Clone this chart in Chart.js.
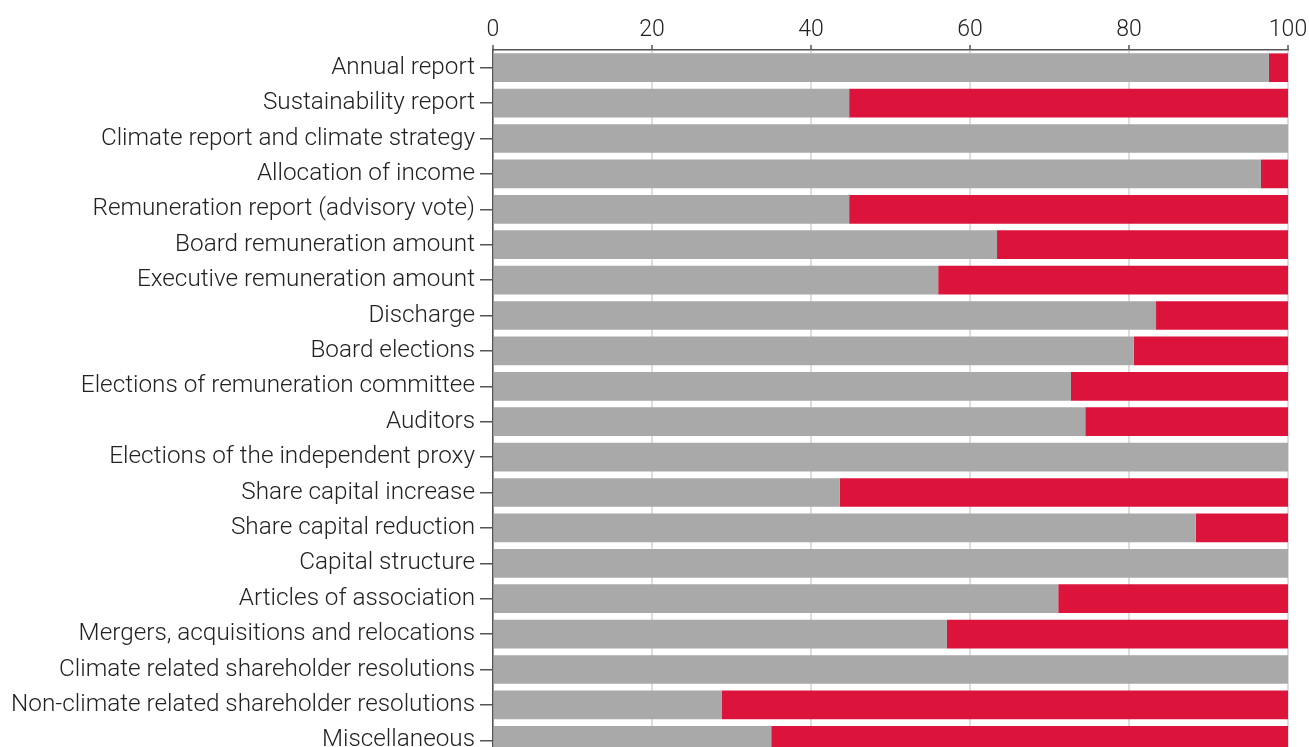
<!DOCTYPE html>
<html>
<head>
<meta charset="utf-8">
<script src="https://cdn.jsdelivr.net/npm/chart.js@4"></script>
<style>
  html, body { margin: 0; padding: 0; background: #fff; overflow: hidden; }
  canvas { display: block; }
</style>
</head>
<body>
<canvas id="votes" width="1309" height="758"></canvas>
<script>
const categories = [
  "Annual report",
  "Sustainability report",
  "Climate report and climate strategy",
  "Allocation of income",
  "Remuneration report (advisory vote)",
  "Board remuneration amount",
  "Executive remuneration amount",
  "Discharge",
  "Board elections",
  "Elections of remuneration committee",
  "Auditors",
  "Elections of the independent proxy",
  "Share capital increase",
  "Share capital reduction",
  "Capital structure",
  "Articles of association",
  "Mergers, acquisitions and relocations",
  "Climate related shareholder resolutions",
  "Non-climate related shareholder resolutions",
  "Miscellaneous",
];

const forVotes = [97.6, 44.8, 100, 96.6, 44.8, 63.4, 56.0, 83.4, 80.6, 72.7, 74.5, 100, 43.6, 88.4, 100, 71.1, 57.1, 100, 28.8, 35.0];
const againstVotes = [2.4, 55.2, 0, 3.4, 55.2, 36.6, 44.0, 16.6, 19.4, 27.3, 25.5, 0, 56.4, 11.6, 0, 28.9, 42.9, 0, 71.2, 65.0];

const xTicks = [0, 20, 40, 60, 80, 100];

const labelFont = { family: "Roboto", size: 24.3, weight: 300 };

const ctx = document.getElementById("votes");

new Chart(ctx, {
  type: "bar",
  data: {
    labels: categories,
    datasets: [
      {
        label: "For",
        data: forVotes,
        backgroundColor: "#a9a9a9",
        categoryPercentage: 1,
        barPercentage: 0.81,
      },
      {
        label: "Against",
        data: againstVotes,
        backgroundColor: "#dc143c",
        categoryPercentage: 1,
        barPercentage: 0.81,
      },
    ],
  },
  options: {
    indexAxis: "y",
    responsive: false,
    animation: false,
    layout: { padding: { left: 0, right: 21, top: 0, bottom: 0 } },
    plugins: {
      legend: { display: false },
      tooltip: { enabled: false },
    },
    scales: {
      x: {
        position: "top",
        stacked: true,
        min: 0,
        max: 100,
        afterBuildTicks: (scale) => {
          scale.ticks = xTicks.map((v) => ({ value: v }));
        },
        afterFit: (scale) => {
          scale.height = 50;
          scale.paddingLeft = 0;
          scale.paddingRight = 0;
        },
        grid: {
          color: "#dddddd",
          lineWidth: 2,
          tickColor: "#555555",
          tickLength: 5,
          tickWidth: 1.5,
        },
        border: { color: "#555555", width: 1.5 },
        ticks: {
          color: "#222222",
          font: { family: "Roboto", size: 23, weight: 300 },
          padding: 1,
        },
      },
      y: {
        stacked: true,
        afterFit: (scale) => {
          scale.width = 493;
          scale.paddingTop = 0;
          scale.paddingBottom = 0;
        },
        grid: {
          offset: false,
          drawOnChartArea: false,
          color: "#555555",
          tickLength: 13,
          lineWidth: 1.5,
        },
        border: { color: "#555555", width: 1.5 },
        ticks: {
          color: "#222222",
          font: labelFont,
          padding: 5,
          autoSkip: false,
        },
      },
    },
  },
});
</script>
</body>
</html>
